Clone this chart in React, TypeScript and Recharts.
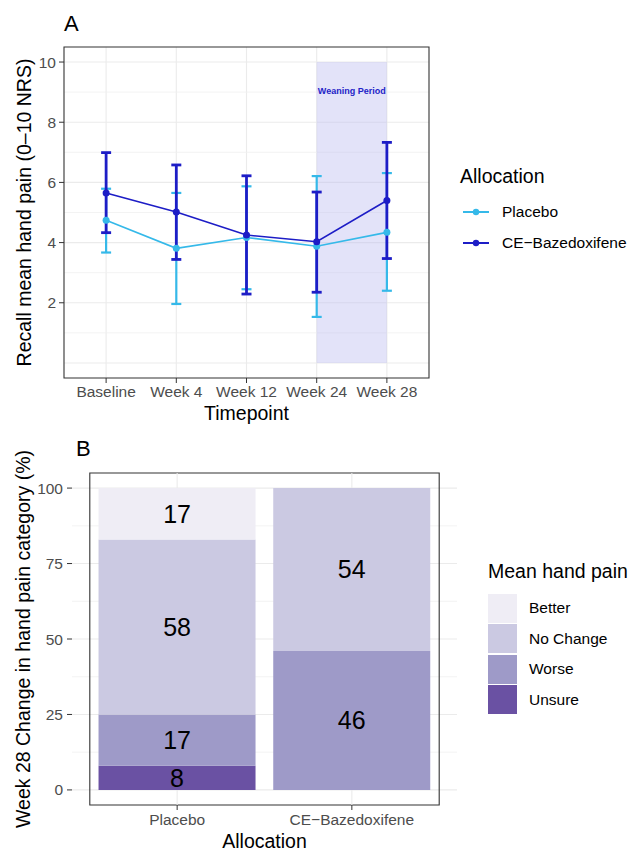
import React from "react";
import {
  LineChart,
  Line,
  XAxis,
  YAxis,
  CartesianGrid,
  ErrorBar,
  ReferenceArea,
  ReferenceLine,
  Legend,
  BarChart,
  Bar,
  LabelList,
} from "recharts";

// panel A: recall mean hand pain by timepoint
const timepoints = ["Baseline", "Week 4", "Week 12", "Week 24", "Week 28"];
const placeboMean = [4.74, 3.81, 4.17, 3.88, 4.34];
const placeboLow = [3.67, 1.96, 2.45, 1.53, 2.4];
const placeboHigh = [5.79, 5.65, 5.87, 6.21, 6.31];
const bzaMean = [5.65, 5.02, 4.25, 4.03, 5.4];
const bzaLow = [4.33, 3.44, 2.29, 2.35, 3.47];
const bzaHigh = [6.99, 6.58, 6.22, 5.68, 7.33];
const painTicks = [2, 4, 6, 8, 10];
const weaningFrom = 4; // Week 24
const weaningTo = 5; // Week 28

// panel B: week 28 change category (%)
const groups = ["Placebo", "CE−Bazedoxifene"];
const unsure = [8, 0];
const worse = [17, 46];
const noChange = [58, 54];
const better = [17, 0];
const pctTicks = [0, 25, 50, 75, 100];
const pctDomain = [-5, 105];

const FONT = "'Liberation Sans', Arial, sans-serif";
const LIGHT = "#35b9e9";
const DARK = "#1d1dc6";
const GRID = "#ebebeb";
const TICK = { fill: "#4d4d4d", fontSize: 15.5, fontFamily: FONT };
const TITLE = { fill: "#000", fontSize: 19.5, fontFamily: FONT };

const painColors = {
  better: "#efedf5",
  noChange: "#cbc9e2",
  worse: "#9e9ac8",
  unsure: "#6a51a3",
};

const lineData = timepoints.map((label, i) => ({
  t: i + 1,
  label,
  placebo: placeboMean[i],
  placeboErr: [placeboMean[i] - placeboLow[i], placeboHigh[i] - placeboMean[i]],
  bza: bzaMean[i],
  bzaErr: [bzaMean[i] - bzaLow[i], bzaHigh[i] - bzaMean[i]],
}));

const barData = groups.map((group, i) => ({
  group,
  unsure: unsure[i],
  worse: worse[i],
  noChange: noChange[i],
  better: better[i],
  total: unsure[i] + worse[i] + noChange[i] + better[i],
}));

function LegendLine({ color }: { color: string }) {
  return (
    <svg width={26} height={10} style={{ display: "block", marginRight: 13 }}>
      <line x1={0} y1={5} x2={26} y2={5} stroke={color} strokeWidth={2} />
      <circle cx={13} cy={5} r={3.2} fill={color} />
    </svg>
  );
}

function AllocationLegend() {
  const items = [
    { name: "Placebo", color: LIGHT },
    { name: "CE−Bazedoxifene", color: DARK },
  ];
  return (
    <div style={{ fontFamily: FONT, color: "#000" }}>
      <div style={{ fontSize: 19.5, lineHeight: "24px", marginLeft: 2 }}>
        Allocation
      </div>
      <div style={{ marginTop: 8 }}>
        {items.map((it) => (
          <div
            key={it.name}
            style={{
              display: "flex",
              alignItems: "center",
              height: 31,
              fontSize: 15.5,
              marginLeft: 5,
            }}
          >
            <LegendLine color={it.color} />
            <span>{it.name}</span>
          </div>
        ))}
      </div>
    </div>
  );
}

function PainLegend() {
  const items = [
    { name: "Better", color: painColors.better },
    { name: "No Change", color: painColors.noChange },
    { name: "Worse", color: painColors.worse },
    { name: "Unsure", color: painColors.unsure },
  ];
  return (
    <div style={{ fontFamily: FONT, color: "#000" }}>
      <div style={{ fontSize: 19.5, lineHeight: "24px" }}>Mean hand pain</div>
      <div style={{ marginTop: 10 }}>
        {items.map((it) => (
          <div
            key={it.name}
            style={{ display: "flex", alignItems: "center", height: 30.5, fontSize: 15.5 }}
          >
            <div
              style={{ width: 29, height: 29, background: it.color, marginRight: 12 }}
            />
            <span>{it.name}</span>
          </div>
        ))}
      </div>
    </div>
  );
}

function PanelA() {
  return (
    <LineChart
      width={630}
      height={425}
      data={lineData}
      margin={{ top: 47, right: 201, bottom: 0, left: 0 }}
    >
      <CartesianGrid
        stroke={GRID}
        strokeWidth={1.1}
        horizontalValues={[0, 2, 4, 6, 8, 10]}
        verticalValues={[1, 2, 3, 4, 5]}
      />
      <CartesianGrid
        stroke="#f0f0f0"
        strokeWidth={0.8}
        vertical={false}
        horizontalValues={[1, 3, 5, 7, 9]}
      />
      <XAxis
        type="number"
        dataKey="t"
        domain={[0.4, 5.6]}
        ticks={[1, 2, 3, 4, 5]}
        interval={0}
        allowDataOverflow
        tickFormatter={(v: number) => timepoints[v - 1]}
        height={47}
        axisLine={false}
        tickLine={{ stroke: "#333" }}
        tickSize={5}
        tickMargin={3}
        tick={TICK}
        label={{ value: "Timepoint", position: "insideBottom", offset: 5, style: TITLE }}
      />
      <YAxis
        type="number"
        domain={[-0.5, 10.5]}
        ticks={painTicks}
        interval={0}
        allowDataOverflow
        width={64}
        axisLine={false}
        tickLine={{ stroke: "#333" }}
        tickSize={5}
        tickMargin={3}
        tick={TICK}
        label={{
          value: "Recall mean hand pain (0–10 NRS)",
          angle: -90,
          position: "insideLeft",
          offset: 24,
          style: { ...TITLE, textAnchor: "middle" },
        }}
      />
      <ReferenceArea
        x1={weaningFrom}
        x2={weaningTo}
        y1={0}
        y2={10}
        fill="#b8b8f0"
        fillOpacity={0.4}
        stroke="none"
        ifOverflow="visible"
        label={{
          value: "Weaning Period",
          position: "insideTop",
          offset: 26,
          fontSize: 9,
          fontWeight: 600,
          fill: "#2323c8",
          fontFamily: FONT,
        }}
      />
      <ReferenceArea
        y1={-0.5}
        y2={10.5}
        fill="none"
        stroke="#333"
        strokeWidth={1.1}
        ifOverflow="visible"
      />
      <Line
        dataKey="placebo"
        stroke={LIGHT}
        strokeWidth={1.6}
        dot={{ r: 3.5, fill: LIGHT, stroke: LIGHT, strokeWidth: 0 }}
        activeDot={false}
        isAnimationActive={false}
      >
        <ErrorBar
          dataKey="placeboErr"
          direction="y"
          width={5}
          stroke={LIGHT}
          strokeWidth={2.2}
          isAnimationActive={false}
        />
      </Line>
      <Line
        dataKey="bza"
        stroke={DARK}
        strokeWidth={1.6}
        dot={{ r: 3.5, fill: DARK, stroke: DARK, strokeWidth: 0 }}
        activeDot={false}
        isAnimationActive={false}
      >
        <ErrorBar
          dataKey="bzaErr"
          direction="y"
          width={5}
          stroke={DARK}
          strokeWidth={2.8}
          isAnimationActive={false}
        />
      </Line>
      <Legend
        layout="vertical"
        align="center"
        verticalAlign="middle"
        wrapperStyle={{ left: 458, top: 164, width: 172, height: "auto" }}
        content={() => <AllocationLegend />}
      />
    </LineChart>
  );
}

function PanelB() {
  const label = (v: any) => (v ? v : "");
  return (
    <BarChart
      width={630}
      height={426}
      data={barData}
      margin={{ top: 48, right: 173, bottom: 0, left: 0 }}
      barCategoryGap="5%"
    >
      <CartesianGrid
        stroke={GRID}
        strokeWidth={1.1}
        vertical={false}
        horizontalValues={pctTicks}
      />
      <CartesianGrid
        stroke="#f0f0f0"
        strokeWidth={0.8}
        vertical={false}
        horizontalValues={[12.5, 37.5, 62.5, 87.5]}
      />
      {/* vertical major grid only shows outside the bars */}
      {barData.map((d) => (
        <ReferenceLine
          key={d.group + "-top"}
          segment={[
            { x: d.group, y: d.total },
            { x: d.group, y: pctDomain[1] },
          ]}
          stroke={GRID}
          strokeWidth={1.1}
          ifOverflow="visible"
        />
      ))}
      {barData.map((d) => (
        <ReferenceLine
          key={d.group + "-bottom"}
          segment={[
            { x: d.group, y: pctDomain[0] },
            { x: d.group, y: 0 },
          ]}
          stroke={GRID}
          strokeWidth={1.1}
          ifOverflow="visible"
        />
      ))}
      <XAxis
        dataKey="group"
        padding={{ left: 17.8, right: 17.8 }}
        height={46}
        axisLine={false}
        tickLine={{ stroke: "#333" }}
        tickSize={5}
        tickMargin={4}
        tick={TICK}
        interval={0}
        label={{ value: "Allocation", position: "insideBottom", offset: 3, style: TITLE }}
      />
      <YAxis
        type="number"
        domain={pctDomain}
        ticks={pctTicks}
        interval={0}
        allowDataOverflow
        width={72}
        axisLine={false}
        tickLine={{ stroke: "#333" }}
        tickSize={5}
        tickMargin={4}
        tick={TICK}
        label={{
          value: "Week 28 Change in hand pain category (%)",
          angle: -90,
          position: "insideLeft",
          offset: 23,
          style: { ...TITLE, textAnchor: "middle" },
        }}
      />
      <Bar dataKey="unsure" stackId="a" fill={painColors.unsure} isAnimationActive={false}>
        <LabelList dataKey="unsure" position="center" formatter={label} fill="#000" fontSize={25} fontFamily={FONT} />
      </Bar>
      <Bar dataKey="worse" stackId="a" fill={painColors.worse} isAnimationActive={false}>
        <LabelList dataKey="worse" position="center" formatter={label} fill="#000" fontSize={25} fontFamily={FONT} />
      </Bar>
      <Bar dataKey="noChange" stackId="a" fill={painColors.noChange} isAnimationActive={false}>
        <LabelList dataKey="noChange" position="center" formatter={label} fill="#000" fontSize={25} fontFamily={FONT} />
      </Bar>
      <Bar dataKey="better" stackId="a" fill={painColors.better} isAnimationActive={false}>
        <LabelList dataKey="better" position="center" formatter={label} fill="#000" fontSize={25} fontFamily={FONT} />
      </Bar>
      <ReferenceArea
        y1={pctDomain[0]}
        y2={pctDomain[1]}
        fill="none"
        stroke="#333"
        strokeWidth={1.1}
        ifOverflow="visible"
      />
      <Legend
        layout="vertical"
        align="center"
        verticalAlign="middle"
        wrapperStyle={{ left: 488, top: 134, width: 142, height: "auto" }}
        content={() => <PainLegend />}
      />
    </BarChart>
  );
}

export default function App() {
  const tag = { position: "absolute" as const, fontFamily: FONT, fontSize: 22, lineHeight: "22px", color: "#000" };
  return (
    <div
      style={{
        position: "absolute",
        left: 0,
        top: 0,
        width: 630,
        height: 851,
        background: "#fff",
        fontFamily: FONT,
      }}
    >
      <div style={{ position: "absolute", left: 0, top: 0 }}>
        <PanelA />
      </div>
      <div style={{ position: "absolute", left: 0, top: 425 }}>
        <PanelB />
      </div>
      <div style={{ ...tag, left: 64, top: 13 }}>A</div>
      <div style={{ ...tag, left: 76, top: 438 }}>B</div>
    </div>
  );
}
